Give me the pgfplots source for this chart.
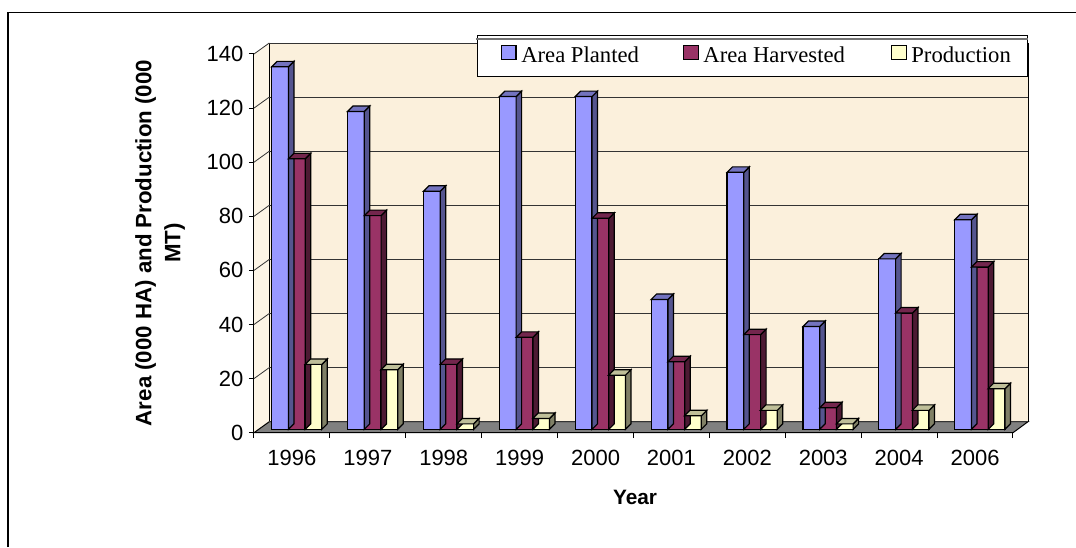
\documentclass[border=0pt]{standalone}
\usepackage{fontspec}
\setmainfont{Liberation Sans}
\newfontfamily\legendfont{Liberation Serif}
\usepackage{pgfplots}
\usepackage{pgfplotstable}
\pgfplotsset{compat=1.18}

\definecolor{wallback}{HTML}{FBF0DC}
\definecolor{wallleft}{HTML}{FDF5E6}
\definecolor{floorgray}{HTML}{808080}
\definecolor{bluefront}{HTML}{9999FF}
\definecolor{blueside}{HTML}{55558F}
\definecolor{bluetop}{HTML}{7373BF}
\definecolor{redfront}{HTML}{993366}
\definecolor{redside}{HTML}{4D1A33}
\definecolor{redtop}{HTML}{73264D}
\definecolor{yelfront}{HTML}{FFFFCC}
\definecolor{yelside}{HTML}{808066}
\definecolor{yeltop}{HTML}{BFBF99}

% 1 px of the reference = 0.75pt
\pgfplotstableread{
i  planted harvested production
0  134     100       24
1  117.5   79        22
2  88      24        2
3  123     34        4
4  123     78        20
5  48      25        5
6  95      35        7
7  38      8         2
8  63      43        7
9  77.5    60        15
}\chartdata

% side and top faces of the bars, drawn from the right edge of the front face
\pgfdeclareplotmark{barside}{%
  \pgfmathsetlengthmacro\barh{\barval*2.0288}%
  \pgfpathmoveto{\pgfpoint{0pt}{0pt}}%
  \pgfpathlineto{\pgfpoint{4.1pt}{4.1pt}}%
  \pgfpathlineto{\pgfpoint{4.1pt}{4.1pt-\barh}}%
  \pgfpathlineto{\pgfpoint{0pt}{-\barh}}%
  \pgfpathclose
  \pgfusepath{fill,stroke}}
\pgfdeclareplotmark{bartop}{%
  \pgfpathmoveto{\pgfpoint{0pt}{0pt}}%
  \pgfpathlineto{\pgfpoint{4.1pt}{4.1pt}}%
  \pgfpathlineto{\pgfpoint{-8.5pt}{4.1pt}}%
  \pgfpathlineto{\pgfpoint{-12.6pt}{0pt}}%
  \pgfpathclose
  \pgfusepath{fill,stroke}}

% column, bar shift, front, side, top, legend text, legend image offset
\newcommand{\barseries}[7]{%
  \addplot[forget plot, only marks, scatter, mark=barside,
    visualization depends on={rawy\as\barval},
    scatter/use mapped color={draw=black, line width=0.9pt, fill=#4, xshift=#2+6.3pt, yshift=2.55pt}]
    table[x=i, y=#1] {\chartdata};
  \addplot[forget plot, only marks, scatter, mark=bartop,
    scatter/use mapped color={draw=black, line width=0.9pt, fill=#5, xshift=#2+6.3pt, yshift=2.55pt}]
    table[x=i, y=#1] {\chartdata};
  \addplot[ybar, bar width=12.6pt, bar shift=#2, yshift=2.55pt,
    draw=black, line width=0.9pt, fill=#3,
    legend image code/.code={\path[draw=none, fill=none] (0pt,0pt) -- (#7,0pt);
      \draw[draw=black, line width=0.9pt, fill=#3] (#7,-5.4pt) rectangle (#7+10.9pt,5.4pt);}]
    table[x=i, y=#1] {\chartdata};
  \addlegendentry{#6}
}

\begin{document}
\begin{tikzpicture}[x=0.75pt, y=0.75pt]
\useasboundingbox (-254,-114.3) rectangle (822,432.7);

% outer chart frame, only left and top are in the picture
\draw[line width=0.9pt] (-246,-114.3) -- (-246,420.2) -- (822,420.2);

% walls and floor
\fill[wallleft] (0,0) -- (15.3,11) -- (15.3,390) -- (0,378.7) -- cycle;
\fill[wallback] (15.3,11) rectangle (774,390);
\filldraw[fill=floorgray, draw=black, line width=0.75pt] (0,0) -- (759,0) -- (774,11) -- (15.3,11) -- cycle;
\draw[line width=0.75pt] (15.3,11) -- (15.3,390);
\draw[line width=0.75pt] (774,11) -- (774,390);
\foreach \k in {1,...,7} {
  \draw[black!80, line width=0.6pt] (0,54.1*\k) -- (15.3,54.1*\k+11);
}

\begin{axis}[
    scale only axis,
    width=569.25pt,
    height=284.03pt,
    xmin=-0.5, xmax=9.5,
    ymin=0, ymax=140,
    clip=false,
    axis lines*=left,
    axis line style={line width=0.75pt, -},
    tick style={black, line width=0.75pt},
    tick align=outside,
    major tick length=3.75pt,
    minor tick length=4pt,
    major x tick style={draw=none},
    xtick={0,...,9},
    xticklabels={1996,1997,1998,1999,2000,2001,2002,2003,2004,2006},
    minor xtick={-0.5,0.5,...,9.5},
    ytick={0,20,...,140},
    ymajorgrids,
    major grid style={black!80, line width=0.6pt, xshift=11.475pt, yshift=8.25pt},
    tick label style={font=\fontsize{16.5}{18}\selectfont},
    /pgf/number format/assume math mode=true,
    yticklabel style={inner sep=0pt, xshift=-4pt},
    xticklabel style={inner sep=0pt, yshift=-9pt},
    xlabel={Year},
    xlabel style={at={(axis description cs:0.502,-0.172)}, anchor=center, font=\fontsize{15.6}{18}\selectfont\bfseries},
    ylabel={Area (000 HA) and Production (000\\MT)},
    ylabel style={at={(axis description cs:-0.1238,0.501)}, anchor=center, align=center,
      font=\fontsize{16.7}{21.75}\selectfont\bfseries},
    legend columns=3,
    legend style={
      at={(axis description cs:1.0198,1.0501)}, anchor=north east,
      draw=black, line width=0.75pt, fill=white,
      font=\legendfont\fontsize{17}{19}\selectfont,
      inner xsep=9pt, inner ysep=6.75pt,
      nodes={inner xsep=3.5pt, inner ysep=2pt},
    },
    legend cell align=left,
]
\barseries{planted}{-8.925pt}{bluefront}{blueside}{bluetop}{Area Planted\kern29.5pt}{9pt}
\barseries{harvested}{3.675pt}{redfront}{redside}{redtop}{Area Harvested\kern31pt}{0pt}
\barseries{production}{16.125pt}{yelfront}{yelside}{yeltop}{Production}{0pt}
\end{axis}

\draw[black!55, line width=1.2pt] (222,393.8) -- (774,393.8);
\end{tikzpicture}
\end{document}
